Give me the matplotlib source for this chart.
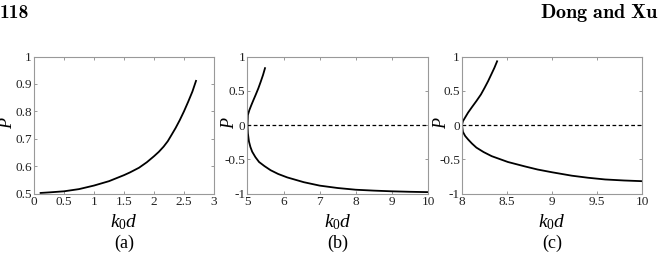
import matplotlib
matplotlib.use("Agg")
import matplotlib.pyplot as plt

plt.rcParams['font.family'] = ['Liberation Serif', 'DejaVu Serif']
plt.rcParams['mathtext.fontset'] = 'custom'
plt.rcParams['mathtext.rm'] = 'Liberation Serif'
plt.rcParams['mathtext.it'] = 'Liberation Serif:italic'
plt.rcParams['mathtext.bf'] = 'Liberation Serif:bold'
plt.rcParams['axes.unicode_minus'] = False

# Panel (a)
kd_a = [0.11, 0.25, 0.5, 0.75, 1.0, 1.25, 1.5, 1.6, 1.75, 1.88, 2.0, 2.08, 2.16, 2.23, 2.29, 2.36,
        2.43, 2.50, 2.57, 2.64, 2.70]
P_a = [0.502, 0.504, 0.508, 0.516, 0.529, 0.545, 0.567, 0.577, 0.594, 0.614, 0.636, 0.652, 0.671,
       0.691, 0.713, 0.739, 0.768, 0.800, 0.835, 0.872, 0.911]

# Panel (b)
kd_b = [5.485, 5.43, 5.365, 5.30, 5.226, 5.165, 5.106, 5.05, 5.01, 5.00, 5.01, 5.04, 5.08, 5.13, 5.22,
        5.32, 5.47, 5.64, 5.85, 6.10, 6.56, 7.0, 7.5, 8.0, 8.5, 9.0, 9.5, 10.0]
P_b = [0.83, 0.73, 0.63, 0.535, 0.44, 0.365, 0.29, 0.215, 0.146, 0.0, -0.12, -0.24, -0.32, -0.39, -0.47,
       -0.54, -0.60, -0.66, -0.715, -0.765, -0.835, -0.885, -0.92, -0.945, -0.958, -0.968, -0.975, -0.98]

# Panel (c)
kd_c = [8.39, 8.36, 8.326, 8.29, 8.25, 8.21, 8.16, 8.11, 8.067, 8.035, 8.01, 8.0, 8.01, 8.035, 8.067, 8.11,
        8.16, 8.24, 8.33, 8.51, 8.70, 8.84, 9.0, 9.22, 9.40, 9.59, 9.80, 10.0]
P_c = [0.93, 0.835, 0.74, 0.64, 0.54, 0.445, 0.35, 0.26, 0.18, 0.11, 0.055, 0.0, -0.10, -0.16, -0.21, -0.27,
       -0.33, -0.395, -0.455, -0.54, -0.605, -0.65, -0.69, -0.74, -0.77, -0.795, -0.81, -0.82]

xticks_a = [0, 0.5, 1, 1.5, 2, 2.5, 3]
xlabels_a = ['0', '0.5', '1', '1.5', '2', '2.5', '3']
yticks_a = [0.5, 0.6, 0.7, 0.8, 0.9, 1]
ylabels_a = ['0.5', '0.6', '0.7', '0.8', '0.9', '1']

xticks_b = [5, 6, 7, 8, 9, 10]
xlabels_b = ['5', '6', '7', '8', '9', '10']
yticks_bc = [-1, -0.5, 0, 0.5, 1]
ylabels_bc = ['-1', '-0.5', '0', '0.5', '1']

xticks_c = [8, 8.5, 9, 9.5, 10]
xlabels_c = ['8', '8.5', '9', '9.5', '10']

panel_labels = ['(a)', '(b)', '(c)']

W, H = 658, 258
fig = plt.figure(figsize=(W / 100, H / 100), dpi=100)

boxes = [(34, 56.5, 180, 137), (247.5, 56.5, 180.5, 137), (462, 56.5, 180, 137)]
axes = []
for (l, t, w, h) in boxes:
    ax = fig.add_axes([l / W, (H - t - h) / H, w / W, h / H])
    axes.append(ax)

specs = [
    (kd_a, P_a, (0, 3), (0.5, 1), xticks_a, xlabels_a, yticks_a, ylabels_a, False),
    (kd_b, P_b, (5, 10), (-1, 1), xticks_b, xlabels_b, yticks_bc, ylabels_bc, True),
    (kd_c, P_c, (8, 10), (-1, 1), xticks_c, xlabels_c, yticks_bc, ylabels_bc, True),
]

ylabel_x = [8, 229, 442]
for i, (ax, sp) in enumerate(zip(axes, specs)):
    x, y, xl, yl, xt, xtl, yt, ytl, dash = sp
    ax.plot(x, y, color='black', lw=1.3, solid_joinstyle='round')
    if dash:
        ax.axhline(0, color='black', lw=0.9, ls=(0, (3, 2)))
    ax.set_xlim(*xl)
    ax.set_ylim(*yl)
    ax.set_xticks(xt)
    ax.set_xticklabels(xtl)
    ax.set_yticks(yt)
    ax.set_yticklabels(ytl)
    ax.tick_params(direction='in', length=2.5, width=0.6, color='#888888',
                   top=True, right=True, labelsize=9.5, pad=1.5, labelcolor='#222222')
    for s in ax.spines.values():
        s.set_color('#999999')
        s.set_linewidth(0.8)
    l, t, w, h = boxes[i]
    cx = (l + w / 2) / W
    fig.text(cx, 1 - 222 / H, r'$k_0d$', ha='center', va='center', fontsize=14)
    fig.text(cx, 1 - 243 / H, panel_labels[i], ha='center', va='center', fontsize=13)
    fig.text(ylabel_x[i] / W, 1 - 123 / H, r'$P$', ha='center', va='center', fontsize=13, rotation=90)

fig.text(0 / W, 1 - 17.5 / H, '118', ha='left', va='baseline', fontsize=14,
         family=['cmb10', 'DejaVu Serif'])
fig.text(540 / W, 1 - 17.5 / H, r'$\mathbf{Dong\ and\ Xu}$', ha='left', va='baseline', fontsize=14.5,
         math_fontfamily='cm')

fig.savefig('out.png', dpi=100)
